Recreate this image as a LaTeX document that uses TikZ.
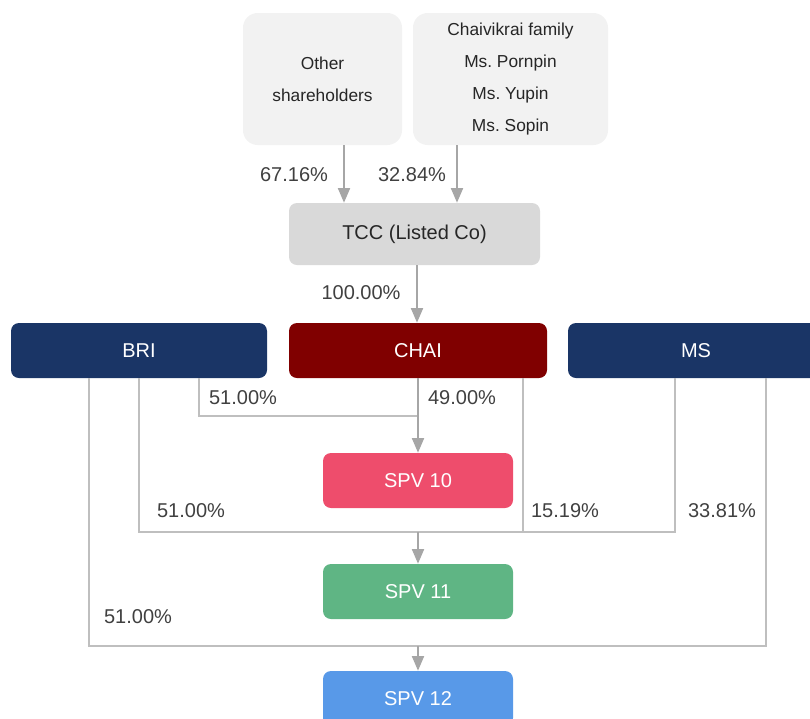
\documentclass[tikz,border=0pt]{standalone}
\usepackage{fontspec}
\setmainfont{Liberation Sans}
\usetikzlibrary{arrows.meta,calc}
\definecolor{topgrey}{HTML}{F2F2F2}
\definecolor{tccgrey}{HTML}{D9D9D9}
\definecolor{navy}{HTML}{1A3566}
\definecolor{darkred}{HTML}{800000}
\definecolor{spvpink}{HTML}{EE4D6C}
\definecolor{spvgreen}{HTML}{5FB584}
\definecolor{spvblue}{HTML}{5899E8}
\definecolor{linegrey}{HTML}{BFBFBF}
\definecolor{arrgrey}{HTML}{A6A6A6}
\definecolor{txtgrey}{HTML}{404040}
\frenchspacing
\begin{document}
\begin{tikzpicture}[x=0.75pt,y=-0.75pt,
  topbox/.style={fill=topgrey, draw=none, rounded corners=11pt, inner sep=0pt,
    align=center, text=black!85, font=\fontsize{13}{24}\selectfont,
    minimum height=132*0.75pt},
  midbox/.style={draw=none, rounded corners=6pt, inner sep=0pt, align=center,
    font=\fontsize{15}{18}\selectfont, minimum height=55*0.75pt},
  whitebox/.style={midbox, text=white},
  pct/.style={text=txtgrey, font=\fontsize{15}{18}\selectfont, inner sep=0pt},
  conn/.style={draw=linegrey, line width=1.1pt},
  arr/.style={draw=arrgrey, line width=1.4pt, -{Triangle[width=9pt,length=11pt]}}
]
\useasboundingbox (0,0) rectangle (810,718);

% nodes
\node[topbox, minimum width=159*0.75pt] (oth) at (322.5,79) {Other\\shareholders};
\node[topbox, minimum width=195*0.75pt] (fam) at (510.5,79) {Chaivikrai family\\Ms. Pornpin\\Ms. Yupin\\Ms. Sopin};
\node[midbox, fill=tccgrey, text=black!85, minimum width=251*0.75pt, minimum height=62*0.75pt] (tcc) at (414.5,234) {TCC (Listed Co)};
\node[whitebox, fill=navy, minimum width=256*0.75pt] (bri) at (139,350.5) {BRI};
\node[whitebox, fill=darkred, minimum width=258*0.75pt] (chai) at (418,350.5) {CHAI};
\node[whitebox, fill=navy, minimum width=256*0.75pt] (ms) at (696,350.5) {MS};
\node[whitebox, fill=spvpink, minimum width=190*0.75pt] (spv10) at (418,480.5) {SPV 10};
\node[whitebox, fill=spvgreen, minimum width=190*0.75pt] (spv11) at (418,591.5) {SPV 11};
\node[whitebox, fill=spvblue, minimum width=190*0.75pt] (spv12) at (418,698.5) {SPV 12};

% helper coordinates
\coordinate (xa) at (344,0);
\coordinate (xb) at (457,0);
\coordinate (xc) at (417,0);
\coordinate (x199) at (199,0);
\coordinate (x139) at (139,0);
\coordinate (x89) at (89,0);
\coordinate (x523) at (523,0);
\coordinate (x675) at (675,0);
\coordinate (x766) at (766,0);
\coordinate (j1) at (418,416);
\coordinate (j2) at (418,532);
\coordinate (j3) at (418,646);

% connectors
\draw[arr] (oth.south -| xa) -- (tcc.north -| xa);
\draw[arr] (fam.south -| xb) -- (tcc.north -| xb);
\draw[arr] (tcc.south -| xc) -- (chai.north -| xc);

\draw[conn] (bri.south -| x199) |- (j1);
\draw[arr] (chai.south) -- (spv10.north);

\draw[conn] (bri.south -| x139) |- (j2);
\draw[conn] (chai.south -| x523) |- (j2);
\draw[conn] (ms.south -| x675) |- (j2);
\draw[arr] (j2) -- (spv11.north);

\draw[conn] (bri.south -| x89) |- (j3);
\draw[conn] (ms.south -| x766) |- (j3);
\draw[arr] (j3) -- (spv12.north);

% labels
\node[pct] (p1) at (294,175) {67.16\%};
\node[pct] (p2) at (412,175) {32.84\%};
\node[pct] (p3) at (361,293) {100.00\%};
\node[pct] (p4) at (243,398) {51.00\%};
\node[pct] (p5) at (462,398) {49.00\%};
\node[pct] (p6) at (191,511) {51.00\%};
\node[pct] (p7) at (565,511) {15.19\%};
\node[pct] (p8) at (722,511) {33.81\%};
\node[pct] (p9) at (138,617) {51.00\%};
\end{tikzpicture}
\end{document}
